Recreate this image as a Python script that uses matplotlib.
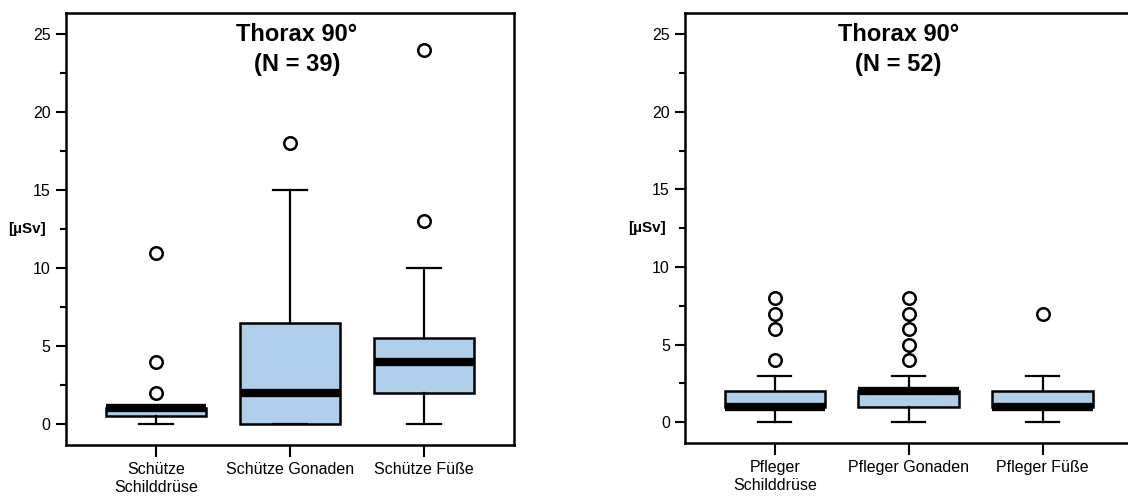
import matplotlib
matplotlib.use("Agg")
import matplotlib.pyplot as plt
from matplotlib.ticker import MultipleLocator

plt.rcParams["font.family"] = ["Liberation Sans", "DejaVu Sans"]

# linke Grafik: Schütze
schuetze_labels = ["Schütze\nSchilddrüse", "Schütze Gonaden", "Schütze Füße"]
schuetze_q1 = [0.5, 0.0, 2.0]
schuetze_med = [1.0, 2.0, 4.0]
schuetze_q3 = [1.0, 6.5, 5.5]
schuetze_lo = [0.0, 0.0, 0.0]
schuetze_hi = [1.0, 15.0, 10.0]
schuetze_out = [[2, 4, 11], [18], [13, 24]]
schuetze_n = 39

# rechte Grafik: Pfleger
pfleger_labels = ["Pfleger\nSchilddrüse", "Pfleger Gonaden", "Pfleger Füße"]
pfleger_q1 = [1.0, 1.0, 1.0]
pfleger_med = [1.0, 2.0, 1.0]
pfleger_q3 = [2.0, 2.0, 2.0]
pfleger_lo = [0.0, 0.0, 0.0]
pfleger_hi = [3.0, 3.0, 3.0]
pfleger_out = [[4, 6, 7, 8], [4, 5, 6, 7, 8], [7]]
pfleger_n = 52

BOX_COLOR = "#afcfeb"


def make_stats(labels, q1, med, q3, lo, hi, out):
    stats = []
    for i in range(len(labels)):
        stats.append({
            "label": labels[i],
            "q1": q1[i], "med": med[i], "q3": q3[i],
            "whislo": lo[i], "whishi": hi[i],
            "fliers": out[i],
        })
    return stats


def draw_panel(ax, stats, n, title_x):
    ax.bxp(
        stats,
        positions=[1, 2, 3],
        widths=0.75,
        capwidths=0.25,
        patch_artist=True,
        boxprops=dict(facecolor=BOX_COLOR, edgecolor="black", linewidth=1.8),
        medianprops=dict(color="black", linewidth=6, solid_capstyle="butt"),
        whiskerprops=dict(color="black", linewidth=1.6),
        capprops=dict(color="black", linewidth=1.6),
        flierprops=dict(marker="o", markersize=9, markerfacecolor="white",
                        markeredgecolor="black", markeredgewidth=1.8),
    )
    ax.set_xlim(0.33, 3.67)
    ax.set_ylim(-1.35, 26.35)
    ax.yaxis.set_major_locator(MultipleLocator(5))
    ax.yaxis.set_minor_locator(MultipleLocator(2.5))
    ax.tick_params(axis="y", which="major", length=7.5, width=1.5,
                   labelsize=11.5, pad=3.5)
    ax.tick_params(axis="y", which="minor", length=4, width=1.5)
    ax.tick_params(axis="x", length=8.5, width=1.5, labelsize=11.5, pad=4)
    for s in ax.spines.values():
        s.set_linewidth(1.8)
    ax.set_ylabel("[µSv]", rotation=0, fontsize=11, fontweight="bold",
                  ha="center", va="center")
    ax.yaxis.set_label_coords(-0.086, 0.5)
    ax.text(title_x, 0.977, f"Thorax 90°\n(N = {n})", transform=ax.transAxes,
            ha="center", va="top", fontsize=17, fontweight="bold",
            linespacing=1.35)


fig = plt.figure(figsize=(11.28, 4.96), dpi=100)
ax1 = fig.add_axes([0.0585, 0.1028, 0.3972, 0.8703])
ax2 = fig.add_axes([0.6073, 0.1069, 0.3965, 0.8659])

draw_panel(ax1, make_stats(schuetze_labels, schuetze_q1, schuetze_med,
                           schuetze_q3, schuetze_lo, schuetze_hi,
                           schuetze_out), schuetze_n, 0.515)
draw_panel(ax2, make_stats(pfleger_labels, pfleger_q1, pfleger_med,
                           pfleger_q3, pfleger_lo, pfleger_hi,
                           pfleger_out), pfleger_n, 0.477)

fig.savefig("out.png", dpi=100)
